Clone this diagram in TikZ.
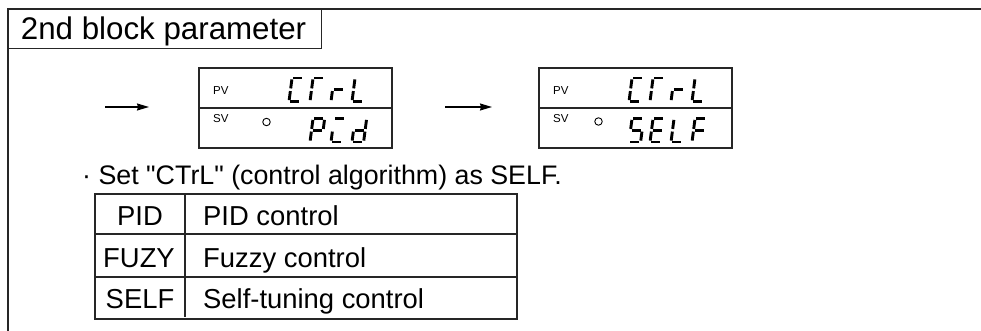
\documentclass[tikz,border=0pt]{standalone}
\usepackage{fontspec}
\setmainfont{Liberation Sans}
\newfontfamily\rawfont{Liberation Sans}[Ligatures=TeXOff]
\usetikzlibrary{arrows.meta}

\newcommand\SgLine[6]{\draw[segline] ({#1+#3+0.13*(#4)},{#2-(#4)}) -- ({#1+#5+0.13*(#6)},{#2-(#6)});}
\newcommand\Sega[2]{\SgLine{#1}{#2}{1.4}{23.5}{10.2}{23.5}}
\newcommand\Segb[2]{\SgLine{#1}{#2}{11.6}{22.1}{11.6}{13.1}}
\newcommand\Segc[2]{\SgLine{#1}{#2}{11.6}{10.4}{11.6}{1.4}}
\newcommand\Segd[2]{\SgLine{#1}{#2}{1.4}{0}{10.2}{0}}
\newcommand\Sege[2]{\SgLine{#1}{#2}{0}{10.4}{0}{1.4}}
\newcommand\Segf[2]{\SgLine{#1}{#2}{0}{22.1}{0}{13.1}}
\newcommand\Segg[2]{\SgLine{#1}{#2}{1.4}{11.75}{10.2}{11.75}}
\newcommand\SevenSeg[3]{\foreach \sg in {#3}{\csname Seg\sg\endcsname{#1}{#2}}}

\begin{document}
\begin{tikzpicture}[x=1pt,y=-1pt,
  frameline/.style={line width=1.2pt, black!85},
  boxline/.style={draw=black!85, line width=1.2pt},
  segline/.style={line width=2.9pt, black, line cap=butt},
  lbl/.style={inner sep=0pt, anchor=base west, font=\fontsize{11.5}{13}\selectfont},
  txt/.style={inner sep=0pt, anchor=base west, font=\fontsize{27.4}{31}\selectfont},
  ctxt/.style={inner sep=0pt, anchor=base, font=\fontsize{27.4}{31}\selectfont},
  arr/.style={line width=1.3pt, -{Stealth[length=12pt,width=7pt,inset=1pt]}},
  dispbox/.style={boxline, minimum width=193pt, minimum height=80pt, inner sep=0pt},
  dotc/.style={circle, draw, line width=0.9pt, minimum size=7.5pt, inner sep=0pt}
]
\useasboundingbox (0,0) rectangle (981,331);

% outer frame
\draw[frameline] (981,9) -- (8,9) -- (8,331);
% title box
\node[boxline, anchor=north west, minimum width=313pt, minimum height=39pt, inner sep=0pt] (titlebox) at (8,9) {};
\node[inner sep=0pt, anchor=base west, font=\fontsize{31.3}{35}\selectfont] (title) at (20.7,40) {2nd block parameter};

% arrows
\coordinate (a1s) at (105,107);
\coordinate (a1e) at (149,107);
\coordinate (a2s) at (445,107);
\coordinate (a2e) at (492,107);
\draw[arr] (a1s) -- (a1e);
\draw[arr] (a2s) -- (a2e);

% display 1
\node[dispbox] (d1) at (295.5,108) {};
\draw[boxline] (d1.west) -- (d1.east);
\node[lbl] (d1pv) at (213,95) {PV};
\node[lbl] (d1sv) at (213,123) {SV};
\node[dotc] (d1dot) at (266.5,122) {};
\SevenSeg{289}{101.5}{a,d,e,f}
\SevenSeg{310}{101.5}{a,e,f}
\SevenSeg{331}{101.5}{e,g}
\SevenSeg{352}{101.5}{d,e,f}
\SevenSeg{310}{142}{a,b,e,f,g}
\SevenSeg{331}{142}{a,d,e}
\SevenSeg{352}{142}{b,c,d,e,g}

% display 2
\node[dispbox] (d2) at (635.5,108) {};
\draw[boxline] (d2.west) -- (d2.east);
\node[lbl] (d2pv) at (553,95) {PV};
\node[lbl] (d2sv) at (553,123) {SV};
\node[dotc] (d2dot) at (598.5,121.5) {};
\SevenSeg{629}{101.5}{a,d,e,f}
\SevenSeg{650}{101.5}{a,e,f}
\SevenSeg{671}{101.5}{e,g}
\SevenSeg{692}{101.5}{d,e,f}
\SevenSeg{629}{142}{a,f,g,c,d}
\SevenSeg{650}{142}{a,f,g,e,d}
\SevenSeg{671}{142}{f,e,d}
\SevenSeg{692}{142}{a,f,g,e}

% note
\node[inner sep=0pt, anchor=base west, font=\fontsize{26.8}{31}\selectfont] (note) at (82,184) {\rawfont · Set "CTrL" (control algorithm) as SELF.};

% table
\coordinate (tnw) at (95,194);
\coordinate (tse) at (517,319);
\draw[boxline] (tnw) rectangle (tse);
\draw[boxline] (95,234) -- (517,234);
\draw[boxline] (95,277) -- (517,277);
\draw[boxline] (185,194) -- (185,317);
\node[ctxt] (c11) at (140,225) {PID};
\node[ctxt] (c21) at (139,267) {FUZY};
\node[ctxt] (c31) at (140,308) {SELF};
\node[txt] (c12) at (203,225) {PID control};
\node[txt] (c22) at (203,267) {Fuzzy control};
\node[txt] (c32) at (203,308) {Self-tuning control};
\end{tikzpicture}
\end{document}
